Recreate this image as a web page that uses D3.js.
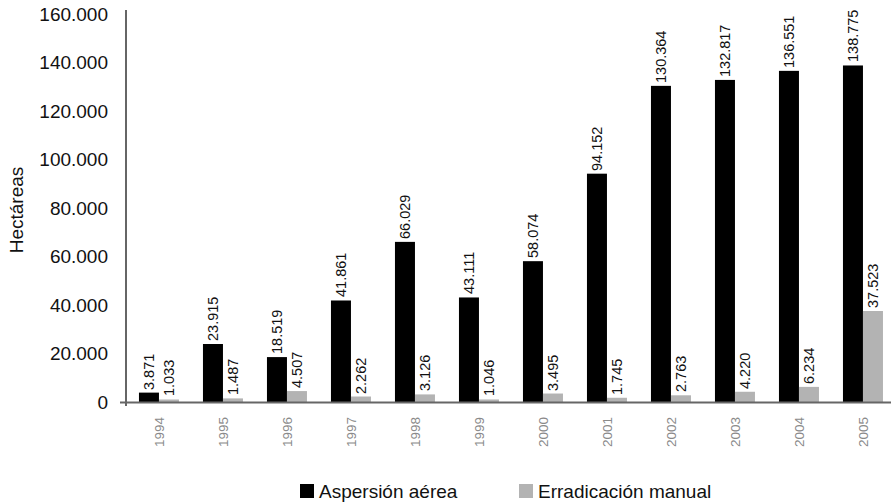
<!DOCTYPE html>
<html>
<head>
<meta charset="utf-8">
<script src="https://cdn.jsdelivr.net/npm/d3@7"></script>
<style>
  body { margin: 0; background: #fff; }
  svg text { font-family: "Liberation Sans", Arial, Helvetica, sans-serif; }
</style>
</head>
<body>
<div id="chart"></div>
<script>
var years = ['1994', '1995', '1996', '1997', '1998', '1999', '2000', '2001', '2002', '2003', '2004', '2005'];
var aspersion = [3871, 23915, 18519, 41861, 66029, 43111, 58074, 94152, 130364, 132817, 136551, 138775];
var manual = [1033, 1487, 4507, 2262, 3126, 1046, 3495, 1745, 2763, 4220, 6234, 37523];
var seriesNames = ['Aspersión aérea', 'Erradicación manual'];
var yTicks = [0, 20000, 40000, 60000, 80000, 100000, 120000, 140000, 160000];

var width = 891, height = 503;
var colors = ['#000000', '#b3b3b3'];
var fmt = d3.formatLocale({decimal: ',', thousands: '.', grouping: [3], currency: ['', '']}).format(',d');

var svg = d3.select('#chart').append('svg')
    .attr('width', width)
    .attr('height', height);

var x = d3.scaleBand().domain(years).range([126, 894]).paddingInner(0.375).paddingOuter(0.1875).align(0.54);
var x1 = d3.scaleBand().domain([0, 1]).range([0, x.bandwidth()]);
var y = d3.scaleLinear().domain([0, 160000]).range([402, 14]);

// flatten bars: one entry per year and series
var bars = [];
years.forEach((yr, i) => {
    bars.push({year: yr, s: 0, v: aspersion[i]});
    bars.push({year: yr, s: 1, v: manual[i]});
});
var barCx = d => Math.round(x(d.year) + x1(d.s) + x1.bandwidth() / 2);

// y tick labels
svg.selectAll('.ytick')
    .data(yTicks)
    .enter().append('text')
    .attr('class', 'ytick')
    .attr('x', 108)
    .attr('y', d => y(d))
    .attr('dy', '0.35em')
    .attr('text-anchor', 'end')
    .style('font-size', '19px')
    .style('fill', '#111')
    .text(d => fmt(d));

// y title
svg.append('text')
    .attr('transform', 'rotate(-90)')
    .attr('x', -210)
    .attr('y', 16)
    .attr('dy', '0.35em')
    .attr('text-anchor', 'middle')
    .style('font-size', '19px')
    .style('fill', '#111')
    .text('Hectáreas');

// bars
svg.selectAll('.bar')
    .data(bars)
    .enter().append('rect')
    .attr('class', 'bar')
    .attr('x', d => x(d.year) + x1(d.s))
    .attr('y', d => y(d.v))
    .attr('width', x1.bandwidth())
    .attr('height', d => y(0) - y(d.v))
    .style('fill', d => colors[d.s]);

// value labels, rotated
svg.selectAll('.val')
    .data(bars)
    .enter().append('text')
    .attr('class', 'val')
    .attr('transform', 'rotate(-90)')
    .attr('x', d => -Math.round(y(d.v) - 3))
    .attr('y', d => barCx(d))
    .attr('dy', '0.35em')
    .attr('text-anchor', 'start')
    .style('font-size', '14.5px')
    .style('fill', '#111')
    .text(d => fmt(d.v));

// year labels, rotated
svg.selectAll('.yr')
    .data(years)
    .enter().append('text')
    .attr('class', 'yr')
    .attr('transform', 'rotate(-90)')
    .attr('x', -417)
    .attr('y', d => Math.round(x(d) + x.bandwidth() / 2))
    .attr('dy', '0.35em')
    .attr('text-anchor', 'end')
    .style('font-size', '13.5px')
    .style('fill', '#8a8a8a')
    .text(d => d);

// axes
svg.append('line')
    .attr('x1', 126).attr('x2', 126)
    .attr('y1', 10).attr('y2', 406)
    .style('stroke', '#666').style('stroke-width', 2);
svg.append('line')
    .attr('x1', 120).attr('x2', 891)
    .attr('y1', y(0) + 0.5).attr('y2', y(0) + 0.5)
    .style('stroke', '#666').style('stroke-width', 2);

// legend
var legendX = [300, 519];
svg.selectAll('.lgbox')
    .data(seriesNames)
    .enter().append('rect')
    .attr('class', 'lgbox')
    .attr('x', (d, i) => legendX[i])
    .attr('y', 484)
    .attr('width', 14)
    .attr('height', 14)
    .style('fill', (d, i) => colors[i]);

svg.selectAll('.lgtext')
    .data(seriesNames)
    .enter().append('text')
    .attr('class', 'lgtext')
    .attr('x', (d, i) => legendX[i] + 19)
    .attr('y', 491)
    .attr('dy', '0.35em')
    .style('font-size', '19px')
    .style('fill', '#111')
    .text(d => d);
</script>
</body>
</html>
